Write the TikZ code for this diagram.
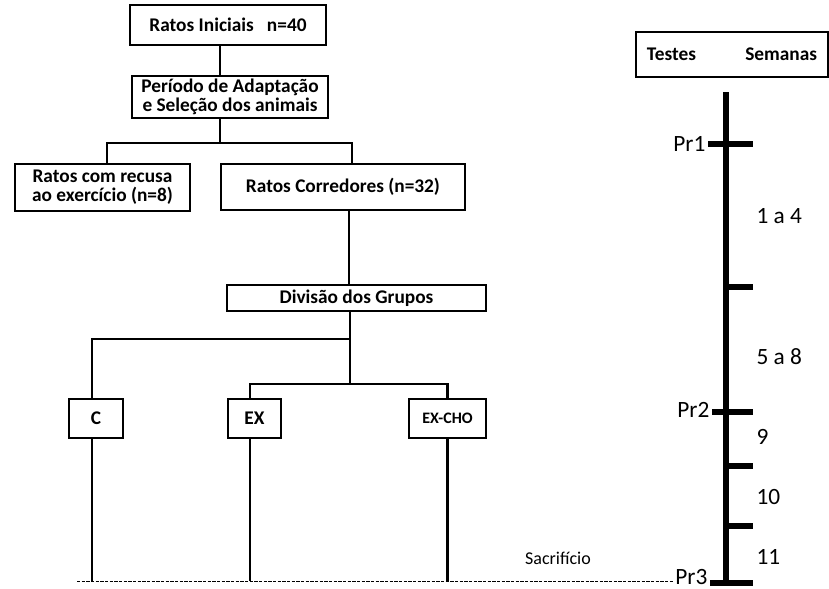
\documentclass[tikz,border=0pt]{standalone}
\usepackage{fontspec}
\setmainfont{Carlito}
\usetikzlibrary{positioning}

\begin{document}
\begin{tikzpicture}[x=0.75pt,y=-0.75pt,
  box/.style={draw, line width=1.7pt, inner sep=0pt, align=center,
    font=\bfseries\fontsize{14.5}{14}\selectfont},
  link/.style={line width=1.6pt},
  axis/.style={line width=5pt},
  tick/.style={line width=4.5pt},
  lbl/.style={font=\fontsize{17.5}{18}\selectfont, inner sep=1pt}]

% background
\useasboundingbox (0,0) rectangle (829,589);
\fill[white] (0,0) rectangle (829,589);

% flow chart boxes
\node[box, minimum width=147pt, minimum height=30pt] (ini) at (228,25) {Ratos Iniciais \ \ n=40};
\node[box, minimum width=147pt, minimum height=31.5pt] (per) at (230,97) {Período de Adaptação\\e Seleção dos animais};
\node[box, minimum width=131pt, minimum height=35pt] (rec) at (102.5,187.5) {Ratos com recusa\\ao exercício (n=8)};
\node[box, minimum width=183pt, minimum height=34.5pt] (cor) at (343,187) {Ratos Corredores (n=32)};
\node[box, minimum width=194pt, minimum height=19.5pt] (div) at (356.5,298) {Divisão dos Grupos};
\node[box, minimum width=40.5pt, minimum height=29.25pt] (c) at (96,418.5) {C};
\node[box, minimum width=39.75pt, minimum height=29.25pt] (ex) at (254.5,418.5) {EX};
\node[box, minimum width=57.75pt, minimum height=29.25pt, font=\bfseries\fontsize{12}{12}\selectfont] (excho) at (447.5,418.5) {EX-CHO};

% connectors
\coordinate (split1) at (220,143);
\coordinate (split2) at (350,339);
\coordinate (split3) at (350,384);
\coordinate (base) at (77,581);
\draw[link] ([xshift=-6pt]ini.south) -- ([xshift=-7.5pt]per.north);
\draw[link] ([xshift=-7.5pt]per.south) -- (split1);
\draw[link] (split1) -| ([xshift=3.4pt]rec.north);
\draw[link] (split1) -| ([xshift=6.75pt]cor.north);
\draw[link] ([xshift=4.5pt]cor.south) -- ([xshift=4.5pt]cor.south |- div.north);
\draw[link] (split2 |- div.south) -- (split3);
\draw[link] (split2) -| ([xshift=-3pt]c.north);
\draw[link] (split3) -| ([xshift=-3.4pt]ex.north);
\draw[link] (split3) -| (excho.north);

% group lines down to sacrifice
\draw[link] ([xshift=-3pt]c.south) -- ([xshift=-3pt]c.south |- base);
\draw[link] ([xshift=-3.4pt]ex.south) -- ([xshift=-3.4pt]ex.south |- base);
\draw[link] (excho.south) -- (excho.south |- base);

% time line
\node[box, minimum width=144pt, minimum height=33.75pt] (head) at (732,54.5) {Testes\hspace{37pt}Semanas};
\coordinate (top) at (726,92);
\coordinate (bot) at (726,583);
\draw[axis] (top) -- (bot);
\draw[tick] (708,144) -- (753,144);
\draw[tick] (726,287) -- (753,287);
\draw[tick] (712,412) -- (753,412);
\draw[tick] (726,466) -- (753,466);
\draw[tick] (726,526) -- (753,526);
\draw[tick] (710,583) -- (753,583);

% tests and weeks
\node[lbl, anchor=east] (pr1) at (707,144) {Pr1};
\node[lbl, anchor=east] (pr2) at (711,410) {Pr2};
\node[lbl, anchor=east] (pr3) at (709,577) {Pr3};
\node[lbl, anchor=west] (w1) at (755,216) {1 a 4};
\node[lbl, anchor=west] (w2) at (755,357) {5 a 8};
\node[lbl, anchor=west] (w3) at (755,437) {9};
\node[lbl, anchor=west] (w4) at (755,497) {10};
\node[lbl, anchor=west] (w5) at (755,557) {11};

% sacrifice
\draw[dash pattern=on 2.5pt off 1pt, line width=0.7pt] (base) -- (base -| pr3.west);
\node[font=\fontsize{13.5}{14}\selectfont] (sac) at (558,558) {Sacrifício};

\end{tikzpicture}
\end{document}
